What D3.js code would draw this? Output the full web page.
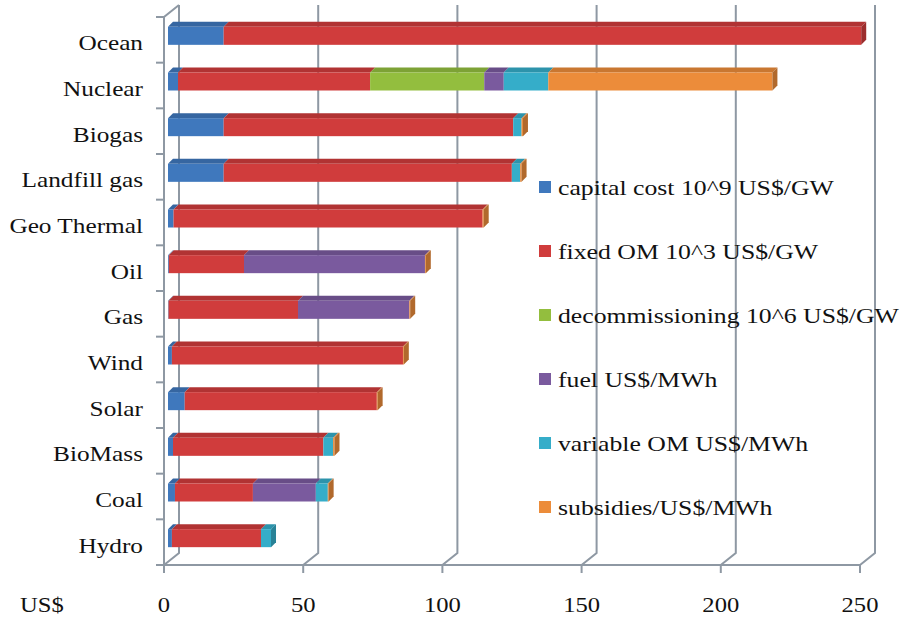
<!DOCTYPE html>
<html>
<head>
<meta charset="utf-8">
<script src="https://cdn.jsdelivr.net/npm/d3@7"></script>
<style>
  body { margin: 0; background: #fff; }
  text { font-family: "Liberation Serif", "Times New Roman", serif; fill: #111; }
</style>
</head>
<body>
<div id="chart"></div>
<script>
// categories top to bottom
var categories = ["Ocean", "Nuclear", "Biogas", "Landfill gas", "Geo Thermal", "Oil",
                  "Gas", "Wind", "Solar", "BioMass", "Coal", "Hydro"];

var capitalCost     = [20, 3.6, 20, 20, 2, 0.3, 0.2, 1.4, 6, 1.8, 2.5, 1.4];
var fixedOM         = [229, 69, 104, 103.5, 111, 27, 46.5, 83, 69, 54, 28, 32];
var decommissioning = [0, 41, 0, 0, 0, 0, 0, 0, 0, 0, 0, 0];
var fuel            = [0, 7, 0, 0, 0, 65, 40, 0, 0, 0, 22.6, 0];
var variableOM      = [0, 16, 3, 3, 0, 0, 0, 0, 0, 3.5, 4.3, 3.6];
var subsidies       = [0, 80.5, 0.5, 0.5, 0.4, 0.3, 0.3, 0.3, 0.3, 0.5, 0.3, 0];

var seriesNames = ["capital cost 10^9 US$/GW", "fixed OM 10^3 US$/GW", "decommissioning 10^6 US$/GW",
                   "fuel US$/MWh", "variable OM US$/MWh", "subsidies/US$/MWh"];
var xTicks = [0, 50, 100, 150, 200, 250];

function init() {
    var w = 901, h = 617;
    var colors = ["#3f78bd", "#d03c3c", "#93be3e", "#7a5a9e", "#35adc9", "#ec8c3a"];
    var keys = ["cap", "fix", "dec", "fuel", "var", "sub"];
    var cols = [capitalCost, fixedOM, decommissioning, fuel, variableOM, subsidies];

    var dataset = categories.map(function(c, i) {
        var row = { name: c };
        keys.forEach(function(k, j) { row[k] = cols[j][i]; });
        return row;
    });

    var series = d3.stack().keys(keys)(dataset);

    var x = d3.scaleLinear().domain([0, 250]).range([164, 860]);
    var y = d3.scaleBand().domain(categories).range([17, 565]);
    var floorY = 565, backDx = 15, backDy = 12;
    var dx = 5, dy = 5, barOff = 4;
    var grid = "#8e98a3";

    var svg = d3.select("#chart").append("svg")
        .attr("width", w).attr("height", h);

    // back wall gridlines + floor
    var g = svg.append("g").attr("stroke", grid).attr("stroke-width", 2).attr("fill", "none");
    xTicks.forEach(function(t) {
        var xf = x(t);
        g.append("path").attr("d", "M" + xf + "," + floorY + "L" + (xf + backDx) + "," + (floorY - backDy) +
            "L" + (xf + backDx) + ",5");
        g.append("line").attr("x1", xf).attr("x2", xf).attr("y1", floorY).attr("y2", floorY + 8);
    });
    g.append("line").attr("x1", x(0)).attr("x2", x(250)).attr("y1", floorY).attr("y2", floorY);
    g.append("path").attr("d", "M" + x(0) + "," + floorY + "L" + x(0) + ",17L" + (x(0) + backDx) + ",5");
    categories.forEach(function(c) {
        g.append("line").attr("x1", x(0) - 8).attr("x2", x(0))
            .attr("y1", y(c)).attr("y2", y(c));
    });
    g.append("line").attr("x1", x(0) - 8).attr("x2", x(0)).attr("y1", floorY).attr("y2", floorY);

    // bars
    function shade(c, k) { return d3.color(c).darker(k).toString(); }
    var bars = svg.append("g");
    series.forEach(function(s, si) {
        s.forEach(function(d) {
            if (d[1] - d[0] <= 0) return;
            var c = y(d.data.name) + y.bandwidth() / 2;
            var x0 = x(d[0]) + barOff, x1 = x(d[1]) + barOff;
            var yt = c - 13, yb = c + 5;
            bars.append("path")
                .attr("d", "M" + x0 + "," + yt + "L" + (x0 + dx) + "," + (yt - dy) + "L" + (x1 + dx) + "," +
                    (yt - dy) + "L" + x1 + "," + yt + "Z")
                .attr("fill", shade(colors[si], 0.45));
            bars.append("rect")
                .attr("x", x0).attr("y", yt)
                .attr("width", x1 - x0).attr("height", yb - yt)
                .attr("fill", colors[si]);
        });
    });
    // end faces
    dataset.forEach(function(d, i) {
        var last = -1;
        keys.forEach(function(k, j) { if (d[k] > 0) last = j; });
        var end = series[last][i][1];
        var c = y(d.name) + y.bandwidth() / 2;
        var x1 = x(end) + barOff, yt = c - 13, yb = c + 5;
        bars.append("path")
            .attr("d", "M" + x1 + "," + yt + "L" + (x1 + dx) + "," + (yt - dy) + "L" + (x1 + dx) + "," +
                (yb - dy) + "L" + x1 + "," + yb + "Z")
            .attr("fill", shade(colors[last], 0.8));
    });

    // category labels
    svg.append("g").selectAll("text").data(categories).enter().append("text")
        .attr("transform", function(d) {
            return "translate(143," + (y(d) + y.bandwidth() / 2 + 10.5) + ") scale(1.15,1)";
        })
        .attr("text-anchor", "end")
        .style("font-size", "22px")
        .text(function(d) { return d; });

    // x tick labels
    svg.append("g").selectAll("text").data(xTicks).enter().append("text")
        .attr("transform", function(d) { return "translate(" + x(d) + ",612) scale(1.12,1)"; })
        .attr("text-anchor", "middle")
        .style("font-size", "22px")
        .text(function(d) { return d; });
    svg.append("text").attr("transform", "translate(20,612) scale(1.12,1)")
        .style("font-size", "22px").text("US$");

    // legend
    var leg = svg.append("g").selectAll("g").data(seriesNames).enter().append("g")
        .attr("transform", function(d, i) { return "translate(539," + (187 + i * 64) + ")"; });
    leg.append("rect").attr("x", 0).attr("y", -6).attr("width", 12).attr("height", 12)
        .attr("fill", function(d, i) { return colors[i]; });
    leg.append("text")
        .attr("transform", "translate(19,7.5) scale(1.17,1)")
        .style("font-size", "22px")
        .text(function(d) { return d; });
}

window.onload = init;
</script>
</body>
</html>
